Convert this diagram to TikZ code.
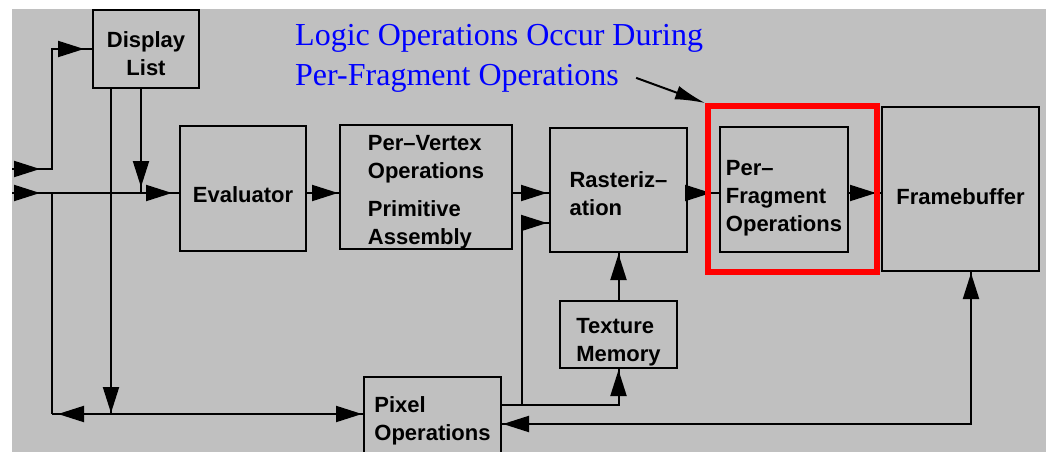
\documentclass[tikz,border=0pt]{standalone}
\usepackage{fontspec}
\setmainfont{Liberation Serif}
\setsansfont{Liberation Sans}
\usepackage{tikz}
\usetikzlibrary{positioning,arrows.meta,decorations.markings}

\definecolor{panelgray}{RGB}{192,192,192}
\definecolor{noteblue}{RGB}{0,0,255}

% invisible strut that lowers the text of a block
\newcommand{\dn}[1]{\rule{0pt}{#1}}

\tikzset{
  blk/.style={shape=rectangle,draw=black,line width=2pt,inner sep=0pt,
    font=\sffamily\bfseries\fontsize{22}{28}\selectfont},
  wire/.style={draw=black,line width=2pt},
  tip/.style={postaction={decorate,decoration={markings,
    mark=at position #1 with {\arrow{Triangle[length=26pt,width=16pt]}}}}},
  backtip/.style={postaction={decorate,decoration={markings,
    mark=at position #1 with {\arrowreversed{Triangle[length=26pt,width=16pt]}}}}},
}

\begin{document}
\begin{tikzpicture}[x=1pt,y=-1pt]
	\useasboundingbox (0,0) rectangle (1046,452);
	\clip (0,0) rectangle (1046,452);
	\fill[panelgray] (12,9) rectangle (1046,452);

	\node[blk,minimum width=106pt,minimum height=78pt,align=center] (D) at (146,49) {\dn{26pt}Display\\List};
	\node[blk,minimum width=126pt,minimum height=125pt] (E) at (243,188.5) {\dn{28pt}Evaluator};
	\node[blk,minimum width=172pt,minimum height=124pt,align=left] (V) at (426,187) {\dn{26pt}Per--Vertex\\Operations\\[10pt]Primitive\\Assembly};
	\node[blk,minimum width=137pt,minimum height=124pt,align=left] (R) at (618.5,190) {\dn{24pt}Rasteriz--\\ation};
	\node[blk,minimum width=128pt,minimum height=125pt,align=left] (F) at (784,189.5) {\dn{32pt}Per--\\Fragment\\Operations};
	\node[blk,minimum width=157pt,minimum height=164pt] (B) at (960.5,189) {\dn{32pt}Framebuffer};
	\node[blk,minimum width=117pt,minimum height=67pt,align=left] (T) at (618.5,334.5) {\dn{30pt}Texture\\Memory};
	\node[blk,minimum width=137pt,minimum height=84pt,align=left] (P) at (432.5,419) {\dn{20pt}Pixel\\Operations};

	% note and its highlight
	\node[anchor=base west,inner sep=0pt,text=noteblue,font=\rmfamily\fontsize{32}{39}\selectfont] (N1) at (295,46) {Logic Operations Occur During};
	\node[anchor=base west,inner sep=0pt,text=noteblue,font=\rmfamily\fontsize{32}{39}\selectfont] (N2) at (295,85) {Per-Fragment Operations};

	\coordinate (inA) at (12,169);
	\coordinate (inB) at (12,193);
	\coordinate (c1) at (52,414);
	\coordinate (c2) at (522,405);

	\draw[wire,tip=28pt,tip=-8pt] (inA) -- (inA -| c1) |- (D.west);
	\draw[wire,tip=28pt,tip=-7pt] (inB) -- (E.west |- inB);
	\draw[wire] (inB -| c1) -- (c1);
	\draw[wire,backtip=6pt,tip=-1pt] (c1) -- (P.west |- c1);
	\draw[wire,tip=-1pt] ([xshift=-35pt]D.south) -- ([xshift=-35pt]D.south |- c1);
	\draw[wire,tip=-6pt] ([xshift=-5pt]D.south) -- ([xshift=-5pt]D.south |- inB);

	\draw[wire,tip=-1pt] (E.east |- inB) -- (V.west |- inB);
	\draw[wire,tip=-2pt] (V.east |- inB) -- (R.west |- inB);
	\draw[wire,tip=-8pt] (R.east |- inB) -- (F.west |- inB);
	\draw[wire,tip=-5pt] (F.east |- inB) -- (B.west |- inB);

	\draw[wire] (P.east |- c2) -- (c2);
	\draw[wire,tip=-2pt] (c2) |- ([yshift=-33pt]R.west);
	\draw[wire,tip=-1pt] (c2) -| (T.south);
	\draw[wire,tip=-1pt] (T) -- (R);
	\draw[wire,backtip=1pt,tip=-1pt] ([xshift=10.5pt]B.south) |- ([yshift=-5pt]P.east);

	\node[draw=red,line width=6pt,inner sep=0pt,minimum width=169pt,minimum height=166pt] (H) at (792.5,189) {};
	\draw[line width=2pt,-{Latex[length=30pt,width=14pt]}] ([xshift=17pt]N2.east) -- (H.north west);
\end{tikzpicture}
\end{document}
